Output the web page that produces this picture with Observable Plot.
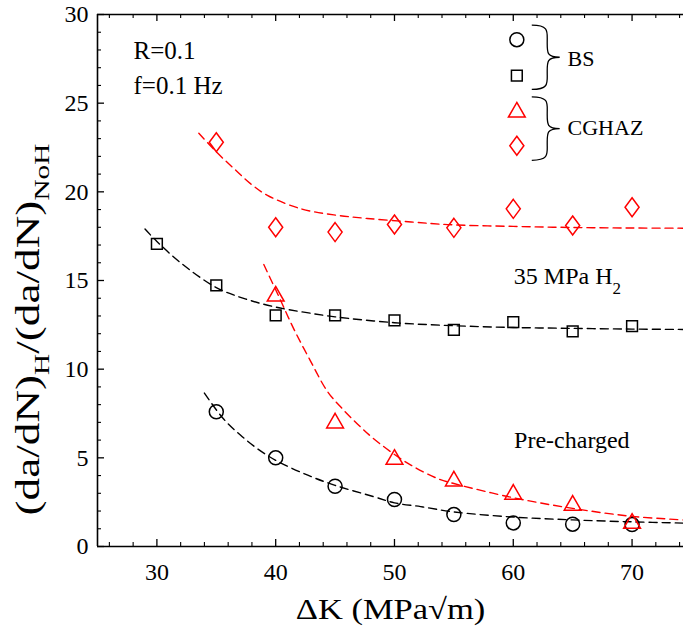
<!DOCTYPE html>
<html><head><meta charset="utf-8">
<script src="https://cdn.jsdelivr.net/npm/d3@7"></script>
<script src="https://cdn.jsdelivr.net/npm/@observablehq/plot@0.6"></script>
<style>body{margin:0;background:#fff}</style>
</head><body><div id="chart"></div>
<script>
// ---- data ----
const dk = [30, 35, 40, 45, 50, 55, 60, 65, 70];
const bsPrecharged    = [null, 7.6, 5.0, 3.4, 2.65, 1.8, 1.33, 1.26, 1.24];
const bsH2            = [17.07, 14.72, 13.03, 13.03, 12.75, 12.22, 12.65, 12.13, 12.43];
const cghazPrecharged = [null, null, 14.25, 7.1, 5.05, 3.83, 3.08, 2.46, 1.44];
const cghazH2         = [null, 22.8, 18.0, 17.73, 18.16, 17.97, 19.04, 18.1, 19.13];

// dashed fit curves
const fitBsH2X = [29.0, 30, 32, 35, 37.5, 40, 42.5, 45, 50, 55, 60, 65, 70, 74.33];
const fitBsH2Y = [17.9, 17.2, 16.0, 14.6, 13.95, 13.5, 13.2, 12.95, 12.62, 12.45, 12.35, 12.3, 12.26, 12.24];
const fitBsPreX = [34.0, 35.6, 37.05, 38.45, 40, 42.7, 45, 48.3, 50, 52.2, 55, 60, 65, 70, 74.33];
const fitBsPreY = [8.65, 7.2, 6.27, 5.52, 4.86, 4.02, 3.45, 2.8, 2.46, 2.25, 1.95, 1.66, 1.5, 1.39, 1.32];
const fitCgPreX = [39.0, 40.4, 41.5, 42.9, 44.35, 45.5, 46.9, 48.3, 51.1, 53.75, 55, 60, 65, 70, 74.33];
const fitCgPreY = [15.9, 13.9, 12.3, 10.5, 8.75, 7.85, 6.9, 6.05, 4.7, 3.8, 3.55, 2.75, 2.15, 1.7, 1.5];
const fitCgH2X = [33.53, 35.08, 36.5, 37.9, 39.3, 42.1, 44.9, 47.7, 51.4, 54.5, 60, 65, 70, 74.33];
const fitCgH2Y = [23.3, 22.2, 21.3, 20.45, 19.8, 19.05, 18.7, 18.5, 18.3, 18.15, 18.05, 17.99, 17.96, 17.95];

const xTicks = [30, 40, 50, 60, 70];
const xMinorTicks = [26, 28, 32, 34, 36, 38, 42, 44, 46, 48, 52, 54, 56, 58, 62, 64, 66, 68, 72, 74];
const yTicks = [0, 5, 10, 15, 20, 25, 30];
const yMinorTicks = [1,2,3,4,6,7,8,9,11,12,13,14,16,17,18,19,21,22,23,24,26,27,28,29];

// ---- layout / style ----
const FONT = "'Liberation Serif', 'Times New Roman', serif";
const W = 683, H = 632, ML = 97, MR = 0, MT = 14, MB = 86;
const FW = W - ML - MR, FH = H - MT - MB;
const RED = "#ff0000", BLK = "#000000";

const table = (xs, ys) => xs.map((x, i) => ({x, y: ys[i]})).filter(d => d.y != null);

// custom symbols
const circleSym = {draw(c, s) { const r = Math.sqrt(s / Math.PI); c.moveTo(r, 0); c.arc(0, 0, r, 0, 2 * Math.PI); }};
const squareSym = {draw(c, s) { const r = Math.sqrt(s / Math.PI); c.rect(-r, -r, 2 * r, 2 * r); }};
const triSym = {draw(c, s) { const r = Math.sqrt(s / Math.PI), h = r * 0.87; c.moveTo(0, -h); c.lineTo(r, h); c.lineTo(-r, h); c.closePath(); }};
const diaSym = {draw(c, s) { const r = Math.sqrt(s / Math.PI), w = r * 0.74; c.moveTo(0, -r); c.lineTo(w, 0); c.lineTo(0, r); c.lineTo(-w, 0); c.closePath(); }};

const series = [
  {vals: bsPrecharged, sym: circleSym, r: 7, color: BLK},
  {vals: bsH2, sym: squareSym, r: 5.4, color: BLK},
  {vals: cghazPrecharged, sym: triSym, r: 8.4, color: RED},
  {vals: cghazH2, sym: diaSym, r: 9.5, color: RED}
];
const fits = [
  {xs: fitBsH2X, ys: fitBsH2Y, color: BLK},
  {xs: fitBsPreX, ys: fitBsPreY, color: BLK},
  {xs: fitCgPreX, ys: fitCgPreY, color: RED},
  {xs: fitCgH2X, ys: fitCgH2Y, color: RED}
];

// legend placement (data units of the frame)
const legendX = 60.3;
const legendY = [28.58, 26.55, 24.63, 22.6];
const groups = [
  {label: "BS", y0: 29.37, y1: 25.75, ty: 27.12},
  {label: "CGHAZ", y0: 25.33, y1: 21.75, ty: 23.18}
];

function braceMark(g) {
  return (index, {x, y}) => {
    const X0 = x(61.6), XM = x(62.9), XT = x(63.95);
    const Y0 = y(g.y0), Y1 = y(g.y1), YM = (Y0 + Y1) / 2, h = YM - Y0;
    const d = `M${X0},${Y0} C${XM + 2},${Y0} ${XM},${Y0 + h * 0.2} ${XM},${Y0 + h * 0.5}`
      + ` C${XM},${Y0 + h * 0.85} ${XM - 1},${YM} ${XT},${YM}`
      + ` C${XM - 1},${YM} ${XM},${YM + h * 0.15} ${XM},${YM + h * 0.5}`
      + ` C${XM},${YM + h * 0.8} ${XM + 2},${Y1} ${X0},${Y1}`;
    return d3.create("svg:path").attr("d", d).attr("fill", "none")
      .attr("stroke", BLK).attr("stroke-width", 1.3).node();
  };
}

const XLABEL = "ΔK (MPa√m)";
const YLABEL = "(da/dN)H/(da/dN)NoH";
const H2LABEL = "35 MPa H2";

const marks = [
  // frame lines (left, bottom, top)
  Plot.ruleX([25], {stroke: BLK, strokeWidth: 1.6}),
  Plot.ruleY([0, 30], {stroke: BLK, strokeWidth: 1.6}),
  // inward ticks
  Plot.tickX(xTicks, {x: d => d, stroke: BLK, strokeWidth: 1.3, insetTop: FH - 7}),
  Plot.tickX(xMinorTicks, {x: d => d, stroke: BLK, strokeWidth: 1.1, insetTop: FH - 4}),
  Plot.tickX(xTicks, {x: d => d, stroke: BLK, strokeWidth: 1.3, insetBottom: FH - 7}),
  Plot.tickX(xMinorTicks, {x: d => d, stroke: BLK, strokeWidth: 1.1, insetBottom: FH - 4}),
  Plot.tickY(yTicks, {y: d => d, stroke: BLK, strokeWidth: 1.3, insetRight: FW - 7}),
  Plot.tickY(yMinorTicks, {y: d => d, stroke: BLK, strokeWidth: 1.1, insetRight: FW - 4}),
  Plot.axisX(xTicks, {tickSize: 0, tickPadding: 16, fontSize: 24, label: null}),
  Plot.axisY(yTicks, {tickSize: 0, tickPadding: 9, fontSize: 24, label: null}),
  // fit curves
  ...fits.map(f => Plot.line(table(f.xs, f.ys), {x: "x", y: "y", stroke: f.color, strokeWidth: 1.4, strokeDasharray: "8,5", curve: "catmull-rom"})),
  // data points
  ...series.map(s => Plot.dot(table(dk, s.vals), {x: "x", y: "y", r: s.r, symbol: s.sym, stroke: s.color, strokeWidth: 1.5, fill: "none"})),
  // legend symbols
  ...series.map((s, i) => Plot.dot([{x: legendX, y: legendY[i]}], {x: "x", y: "y", r: s.r, symbol: s.sym, stroke: s.color, strokeWidth: 1.5, fill: "none"})),
  ...groups.map(g => braceMark(g)),
  Plot.text(groups, {x: () => 64.57, y: "ty", text: "label", textAnchor: "start", lineAnchor: "bottom", fontSize: 22}),
  // annotations
  Plot.text([{x: 28.03, y: 27.49, t: "R=0.1"}, {x: 28.03, y: 25.52, t: "f=0.1 Hz"}], {x: "x", y: "y", text: "t", textAnchor: "start", lineAnchor: "bottom", fontSize: 25}),
  Plot.text([{x: 60.05, y: 14.83, t: H2LABEL}], {x: "x", y: "y", text: "t", textAnchor: "start", lineAnchor: "bottom", fontSize: 24}),
  Plot.text([{x: 60.07, y: 5.58, t: "Pre-charged"}], {x: "x", y: "y", text: "t", textAnchor: "start", lineAnchor: "bottom", fontSize: 24}),
  // axis titles
  Plot.text([XLABEL], {frameAnchor: "bottom", dy: 72, lineAnchor: "bottom", fontSize: 29}),
  Plot.text([YLABEL], {frameAnchor: "bottom-left", rotate: -90, textAnchor: "start", lineAnchor: "bottom", dx: -59, dy: -31, fontSize: 34})
];

const svg = Plot.plot({
  width: W, height: H,
  marginLeft: ML, marginRight: MR, marginTop: MT, marginBottom: MB,
  x: {domain: [25, 74.33], label: null, axis: null},
  y: {domain: [0, 30], label: null, axis: null},
  style: {fontFamily: FONT, fontSize: "24px", color: "#000", background: "#fff", overflow: "visible"},
  marks
});

function rich(t, parts, subSize, shift) {
  t.text(null);
  let cur = 0;
  for (const [s, sub] of parts) {
    const target = sub ? shift : 0;
    const ts = t.append("tspan").text(s).attr("dy", target - cur);
    if (sub) ts.attr("font-size", subSize);
    cur = target;
  }
}
const S = d3.select(svg);
const byText = s => S.selectAll("text").filter(function () { return this.textContent === s; });
byText(H2LABEL).each(function () { rich(d3.select(this), [["35 MPa H", false], ["2", true]], 17, 10); });
byText(YLABEL).each(function () {
  const t = d3.select(this);
  rich(t, [["(da/dN)", false], ["H", true], ["/(da/dN)", false], ["NoH", true]], 22, 10);
  t.attr("transform", (t.attr("transform") || "") + " scale(1.33,1)");
});
byText(XLABEL).each(function () {
  const t = d3.select(this);
  t.attr("transform", (t.attr("transform") || "") + " scale(1.19,1)");
});

document.getElementById("chart").appendChild(svg);
</script>
</body></html>
